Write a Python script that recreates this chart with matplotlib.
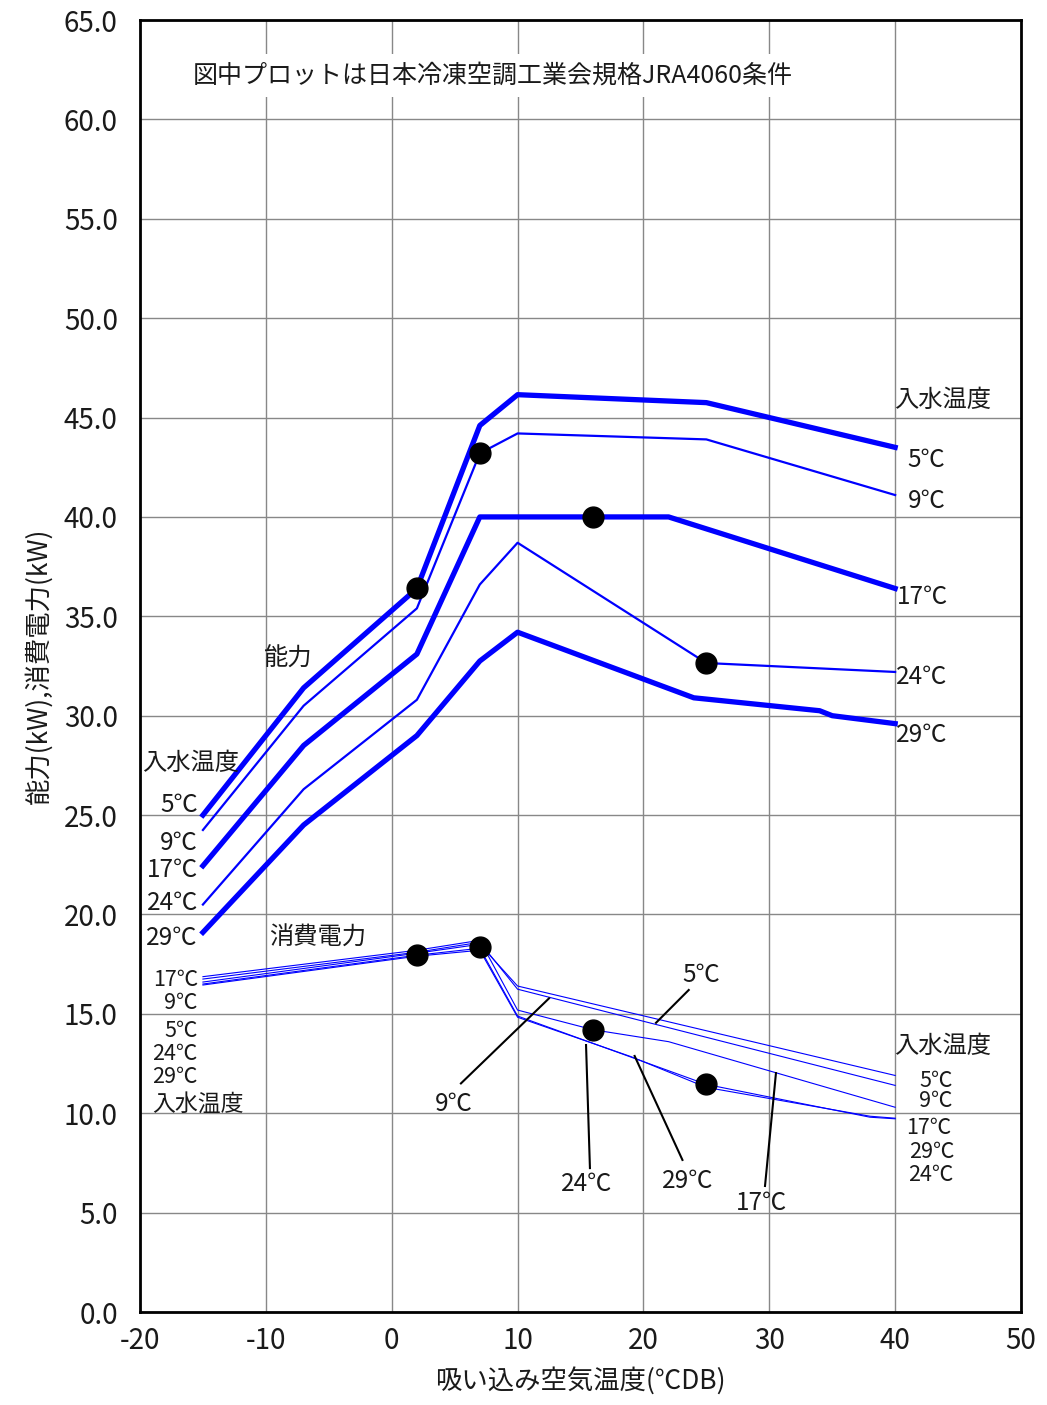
import matplotlib
matplotlib.use("Agg")
import matplotlib.pyplot as plt

plt.rcParams['font.family'] = ['Noto Sans CJK JP', 'DejaVu Sans']

# ---- capacity (能力) series, by inlet water temperature ----
cap_5_x = [-15, -7, 2, 7, 10, 25, 40]
cap_5_y = [25.0, 31.4, 36.4, 44.6, 46.15, 45.75, 43.5]
cap_9_x = [-15, -7, 2, 7, 10, 25, 40]
cap_9_y = [24.25, 30.5, 35.4, 43.2, 44.2, 43.9, 41.1]
cap_17_x = [-15, -7, 2, 7, 22, 40]
cap_17_y = [22.45, 28.5, 33.1, 40.0, 40.0, 36.4]
cap_24_x = [-15, -7, 2, 7, 10, 25, 40]
cap_24_y = [20.5, 26.3, 30.8, 36.6, 38.7, 32.65, 32.2]
cap_29_x = [-15, -7, 2, 7, 10, 24, 34, 35, 40]
cap_29_y = [19.1, 24.5, 29.0, 32.75, 34.2, 30.9, 30.25, 30.0, 29.6]

# ---- power consumption (消費電力) series ----
pow_5_x = [-15, 2, 7, 10, 40]
pow_5_y = [16.6, 18.05, 18.5, 16.4, 11.9]
pow_9_x = [-15, 2, 7, 10, 40]
pow_9_y = [16.75, 18.1, 18.6, 16.24, 11.4]
pow_17_x = [-15, 2, 7, 10, 16, 22, 40]
pow_17_y = [16.87, 18.2, 18.7, 15.19, 14.2, 13.6, 10.3]
pow_24_x = [-15, 2, 7, 10, 25, 38, 40]
pow_24_y = [16.5, 17.95, 18.3, 14.89, 11.45, 9.8, 9.72]
pow_29_x = [-15, 2, 7, 10, 19, 25, 38, 40]
pow_29_y = [16.45, 17.9, 18.2, 14.83, 12.85, 11.3, 9.85, 9.75]

# JRA4060 plot points
dot_x = [2, 7, 16, 25]
dot_cap = [36.4, 43.2, 40.0, 32.65]
dot_pow = [17.96, 18.35, 14.2, 11.45]

x_ticks = [-20, -10, 0, 10, 20, 30, 40, 50]
y_ticks = [0, 5, 10, 15, 20, 25, 30, 35, 40, 45, 50, 55, 60, 65]

blue = '#0000FF'
fig = plt.figure(figsize=(10.47, 14.05), dpi=100)
ax = fig.add_axes([140/1047, 93/1405, 881/1047, 1292/1405])

thick, thin, pw = 3.8, 1.6, 0.8
ax.plot(cap_5_x, cap_5_y, color=blue, lw=thick, zorder=3)
ax.plot(cap_9_x, cap_9_y, color=blue, lw=thin, zorder=3)
ax.plot(cap_17_x, cap_17_y, color=blue, lw=thick, zorder=3)
ax.plot(cap_24_x, cap_24_y, color=blue, lw=thin, zorder=3)
ax.plot(cap_29_x, cap_29_y, color=blue, lw=thick, zorder=3)
for xs, ys in [(pow_5_x, pow_5_y), (pow_9_x, pow_9_y), (pow_17_x, pow_17_y),
               (pow_24_x, pow_24_y), (pow_29_x, pow_29_y)]:
    ax.plot(xs, ys, color=blue, lw=pw, zorder=3)

ax.plot(dot_x, dot_cap, 'o', color='black', ms=15, ls='none', zorder=5)
ax.plot(dot_x, dot_pow, 'o', color='black', ms=15, ls='none', zorder=5)

ax.set_xlim(-20, 50)
ax.set_ylim(0, 65)
ax.set_xticks(x_ticks)
ax.set_yticks(y_ticks)
ax.set_xticklabels([str(v) for v in x_ticks])
ax.set_yticklabels([f"{v:.1f}" for v in y_ticks])
ax.tick_params(length=0, labelsize=20, colors='#1a1a1a')
ax.tick_params(axis='y', pad=16)
ax.tick_params(axis='x', pad=10)
ax.grid(True, color='#888888', lw=1.0, zorder=0)
ax.set_axisbelow(True)
for s in ax.spines.values():
    s.set_linewidth(2)
    s.set_color('black')

ax.set_xlabel('吸い込み空気温度(℃DB)', fontsize=19, labelpad=8, color='#1a1a1a')
ax.set_ylabel('能力(kW),消費電力(kW)', fontsize=19, labelpad=8, color='#1a1a1a')

fs = 17.5
fs_s = 15.5
tc = '#1a1a1a'
def t(x, y, s, ha='center', size=fs, **kw):
    ax.text(x, y, s, ha=ha, va='center', fontsize=size, color=tc, zorder=6, **kw)

t(8.05, 62.2, '図中プロットは日本冷凍空調工業会規格JRA4060条件', size=18,
  bbox=dict(facecolor='white', edgecolor='none', pad=6))

# left capacity labels
t(-19.8, 27.6, '入水温度', ha='left')
for y, s in [(25.5, '5℃'), (23.6, '9℃'), (22.24, '17℃'), (20.58, '24℃'), (18.82, '29℃')]:
    t(-15.4, y, s, ha='right')
# left power labels
for y, s in [(16.7, '17℃'), (15.55, '9℃'), (14.14, '5℃'), (12.98, '24℃'), (11.82, '29℃')]:
    t(-15.4, y, s, ha='right', size=fs_s)
t(-19.0, 10.45, '入水温度', ha='left', size=16.5)

# right capacity labels
t(39.9, 45.9, '入水温度', ha='left')
t(41.0, 42.86, '5℃', ha='left')
t(41.0, 40.8, '9℃', ha='left')
t(40.1, 35.97, '17℃', ha='left')
t(40.1, 31.95, '24℃', ha='left')
t(40.1, 29.03, '29℃', ha='left')
# right power labels
t(39.9, 13.4, '入水温度', ha='left')
t(41.9, 11.62, '5℃', ha='left', size=fs_s)
t(41.9, 10.62, '9℃', ha='left', size=fs_s)
t(40.9, 9.26, '17℃', ha='left', size=fs_s)
t(41.1, 8.05, '29℃', ha='left', size=fs_s)
t(41.0, 6.89, '24℃', ha='left', size=fs_s)

t(-8.3, 32.85, '能力')
t(-5.9, 18.82, '消費電力')

# middle power labels with leader lines
t(24.6, 16.95, '5℃')
ax.plot([23.6, 21.0], [16.2, 14.55], color='black', lw=1.5, zorder=4)
t(4.9, 10.46, '9℃')
ax.plot([5.5, 12.5], [11.5, 15.78], color='black', lw=1.5, zorder=4)
t(15.45, 6.44, '24℃')
ax.plot([15.75, 15.44], [7.24, 13.43], color='black', lw=1.5, zorder=4)
t(23.5, 6.6, '29℃')
ax.plot([23.1, 19.3], [7.65, 12.88], color='black', lw=1.5, zorder=4)
t(29.4, 5.48, '17℃')
ax.plot([29.66, 30.53], [6.34, 12.02], color='black', lw=1.5, zorder=4)

fig.savefig('out.png', dpi=100)
